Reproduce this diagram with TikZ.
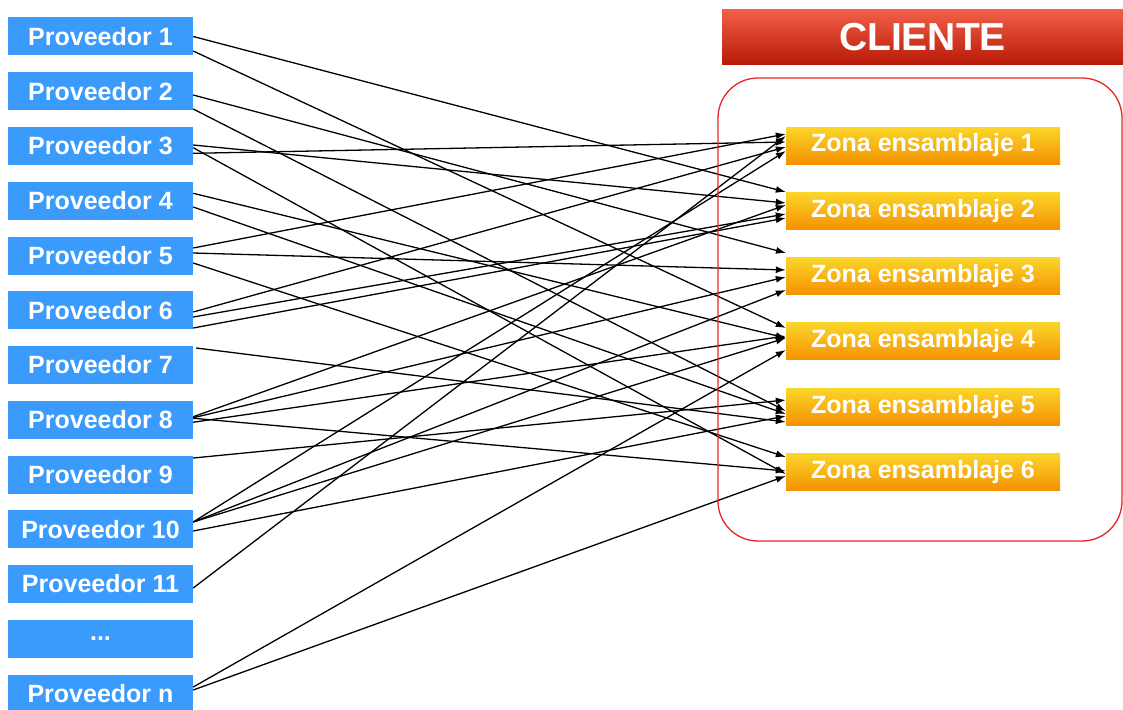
\documentclass[tikz,border=0pt]{standalone}
\usepackage{fontspec}
\setmainfont{Liberation Sans}
\usetikzlibrary{arrows.meta}
\definecolor{provblue}{RGB}{58,155,252}
\definecolor{zonatop}{RGB}{250,214,42}
\definecolor{zonabot}{RGB}{245,145,0}
\definecolor{clitop}{RGB}{242,96,74}
\definecolor{clibot}{RGB}{184,26,6}
\definecolor{frame}{RGB}{232,38,38}
% connector from a supplier box (offset on its east side) to a zone (offset on its west side)
\newcommand\lnk[4]{\draw[link] ([yshift=#2pt]#1.east) -- ([yshift=#4pt]#3.west);}
\begin{document}
\begin{tikzpicture}[x=1pt,y=1pt,
  prov/.style={fill=provblue, minimum width=185pt, minimum height=38pt, inner sep=0pt,
    text=white, font=\fontsize{25}{30}\selectfont\bfseries},
  zona/.style={top color=zonatop, bottom color=zonabot, minimum width=274pt, minimum height=37pt,
    inner sep=0pt, text=white, font=\fontsize{25}{30}\selectfont\bfseries},
  link/.style={line width=1.3pt, black, -{Latex[length=10pt,width=7pt]}}]
\useasboundingbox (0,0) rectangle (1123,-709);

% suppliers
\node[prov] (p1)  at (100.5,-36.5)  {Proveedor 1};
\node[prov] (p2)  at (100.5,-91.25) {Proveedor 2};
\node[prov] (p3)  at (100.5,-146)   {Proveedor 3};
\node[prov] (p4)  at (100.5,-200.75){Proveedor 4};
\node[prov] (p5)  at (100.5,-255.5) {Proveedor 5};
\node[prov] (p6)  at (100.5,-310.25){Proveedor 6};
\node[prov] (p7)  at (100.5,-365)   {Proveedor 7};
\node[prov] (p8)  at (100.5,-419.75){Proveedor 8};
\node[prov] (p9)  at (100.5,-474.5) {Proveedor 9};
\node[prov] (p10) at (100.5,-529.25){Proveedor 10};
\node[prov] (p11) at (100.5,-584)   {Proveedor 11};
\node[prov] (pdots) at (100.5,-638.75){\raisebox{-4pt}{...}};
\node[prov] (pn)  at (100.5,-693.5) {Proveedor n};

% client header
\node[top color=clitop, bottom color=clibot, minimum width=401pt, minimum height=55pt,
  inner sep=0pt, text=white, font=\fontsize{39}{44}\selectfont\bfseries]
  (cli) at (922.5,-36.7) {CLIENTE};

% assembly zones
\node[zona] (z1) at (923,-145.5) {Zona ensamblaje 1};
\node[zona] (z2) at (923,-210.8) {Zona ensamblaje 2};
\node[zona] (z3) at (923,-276.1) {Zona ensamblaje 3};
\node[zona] (z4) at (923,-341.4) {Zona ensamblaje 4};
\node[zona] (z5) at (923,-406.7) {Zona ensamblaje 5};
\node[zona] (z6) at (923,-472)   {Zona ensamblaje 6};
\coordinate (gap) at (786,-253);

% supply links
\lnk{p1}{0}{z2}{18.8}
\lnk{p1}{-14.5}{z4}{13.4}
\draw[link] ([yshift=-3.75pt]p2.east) -- (gap);
\lnk{p2}{-17.75}{z5}{-4.3}
\lnk{p3}{-7.3}{z1}{3.5}
\lnk{p3}{1}{z2}{7.8}
\lnk{p3}{-1.7}{z6}{-2}
\lnk{p4}{7.45}{z4}{3.4}
\lnk{p4}{-6.25}{z5}{-7.3}
\lnk{p5}{7.5}{z1}{11.5}
\lnk{p5}{2.5}{z3}{6.1}
\lnk{p5}{-7.5}{z6}{15}
\lnk{p6}{-1.75}{z1}{-1.5}
\lnk{p6}{-6.75}{z2}{-3.2}
\lnk{p6}{-17.75}{z2}{-7.2}
\draw[link] ([xshift=3pt,yshift=17pt]p7.east) -- ([yshift=-15.3pt]z5.west);
\lnk{p8}{3}{z2}{5.8}
\lnk{p8}{2}{z3}{-0.9}
\lnk{p8}{-2.5}{z4}{5.4}
\lnk{p8}{1.5}{z6}{1}
\lnk{p9}{16.5}{z5}{6.7}
\lnk{p10}{7.25}{z1}{-5.5}
\lnk{p10}{7.25}{z3}{-13.9}
\lnk{p10}{7.25}{z4}{3.4}
\lnk{p10}{-1.75}{z5}{-9.3}
\lnk{p11}{-4}{z1}{9.5}
\lnk{pn}{6.5}{z4}{-8.6}
\lnk{pn}{3.5}{z6}{-4}

% client boundary
\draw[frame, line width=1.3pt, rounded corners=40pt] (718,-78) rectangle (1122,-541);
\end{tikzpicture}
\end{document}
